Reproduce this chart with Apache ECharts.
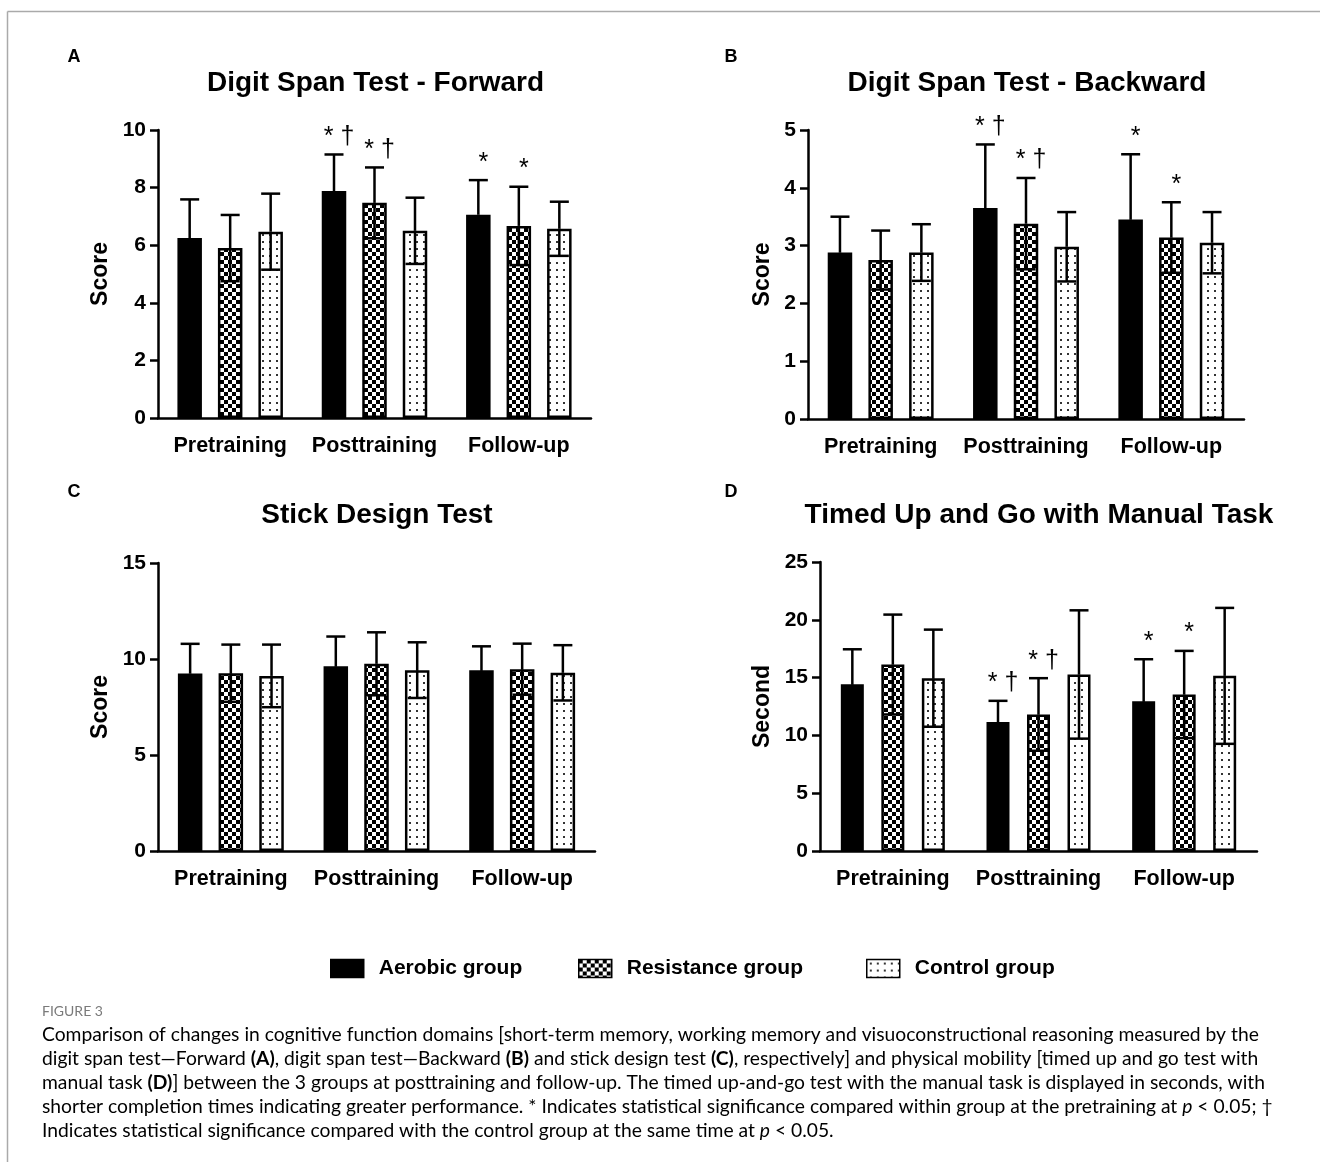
<!DOCTYPE html>
<html><head><meta charset="utf-8">
<script src="https://cdn.jsdelivr.net/npm/echarts@6/dist/echarts.min.js"></script>
<style>html,body{margin:0;padding:0;background:#fff}#c{width:1320px;height:1162px}</style>
</head><body><div id="c"></div>
<script>
// ---------------- DATA ----------------
const categories = ['Pretraining', 'Posttraining', 'Follow-up'];
const groups = ['Aerobic group', 'Resistance group', 'Control group'];
const panelTitles = ['Digit Span Test - Forward', 'Digit Span Test - Backward', 'Stick Design Test', 'Timed Up and Go with Manual Task'];
const panelLetters = ['A', 'B', 'C', 'D'];
const yNames = ['Score', 'Score', 'Score', 'Second'];
const yMax = [10, 5, 15, 25];
const yStep = [2, 1, 5, 5];

// Panel A: Digit span forward (mean, SD)
const fwdAerobic = [6.25, 7.88, 7.06];
const fwdAerobicSD = [1.34, 1.27, 1.20];
const fwdResistance = [5.90, 7.47, 6.67];
const fwdResistanceSD = [1.15, 1.23, 1.36];
const fwdControl = [6.47, 6.50, 6.57];
const fwdControlSD = [1.32, 1.15, 0.94];

// Panel B: Digit span backward
const bwdAerobic = [2.88, 3.65, 3.45];
const bwdAerobicSD = [0.62, 1.10, 1.13];
const bwdResistance = [2.75, 3.38, 3.14];
const bwdResistanceSD = [0.51, 0.79, 0.61];
const bwdControl = [2.88, 2.98, 3.05];
const bwdControlSD = [0.49, 0.60, 0.53];

// Panel C: Stick design test
const stickAerobic = [9.24, 9.62, 9.42];
const stickAerobicSD = [1.55, 1.55, 1.24];
const stickResistance = [9.26, 9.75, 9.47];
const stickResistanceSD = [1.49, 1.64, 1.33];
const stickControl = [9.12, 9.42, 9.28];
const stickControlSD = [1.63, 1.45, 1.44];

// Panel D: Timed up and go with manual task (seconds)
const tugAerobic = [14.43, 11.15, 12.96];
const tugAerobicSD = [3.02, 1.84, 3.63];
const tugResistance = [16.13, 11.81, 13.54];
const tugResistanceSD = [4.32, 3.14, 3.77];
const tugControl = [14.95, 15.27, 15.15];
const tugControlSD = [4.20, 5.55, 5.88];

// Significance marks
const marksA = [['', '* \u2020', '*'], ['', '* \u2020', '*'], ['', '', '']];
const marksB = [['', '* \u2020', '*'], ['', '* \u2020', '*'], ['', '', '']];
const marksC = [['', '', ''], ['', '', ''], ['', '', '']];
const marksD = [['', '* \u2020', '*'], ['', '* \u2020', '*'], ['', '', '']];

const captionHead = 'FIGURE 3';
const captionLines = [
  '{n|Comparison of changes in cognitive function domains [short-term memory, working memory and visuoconstructional reasoning measured by the}',
  '{n|digit span test\u2014Forward }{b|(A)}{n|, digit span test\u2014Backward }{b|(B)}{n| and stick design test }{b|(C)}{n|, respectively] and physical mobility [timed up and go test with}',
  '{n|manual task }{b|(D)}{n|] between the 3 groups at posttraining and follow-up. The timed up-and-go test with the manual task is displayed in seconds, with}',
  '{n|shorter completion times indicating greater performance. * Indicates statistical significance compared within group at the pretraining at }{i|p}{n| < 0.05; \u2020}',
  '{n|Indicates statistical significance compared with the control group at the same time at }{i|p}{n| < 0.05.}'
];
const captionPlain1 = 'Comparison of changes in cognitive function domains [short-term memory, working memory and visuoconstructional reasoning measured by the';

// --------------- ASSEMBLY ---------------
const means = [
  [fwdAerobic, fwdResistance, fwdControl],
  [bwdAerobic, bwdResistance, bwdControl],
  [stickAerobic, stickResistance, stickControl],
  [tugAerobic, tugResistance, tugControl]
];
const sds = [
  [fwdAerobicSD, fwdResistanceSD, fwdControlSD],
  [bwdAerobicSD, bwdResistanceSD, bwdControlSD],
  [stickAerobicSD, stickResistanceSD, stickControlSD],
  [tugAerobicSD, tugResistanceSD, tugControlSD]
];
const marks = [marksA, marksB, marksC, marksD];

const FONT = "'Liberation Sans', Arial, Helvetica, sans-serif";
const CAPFONT = "Lato, 'Open Sans', sans-serif";

const gridBoxes = [
  {left: 158, top: 130, width: 433, height: 288},
  {left: 808, top: 130, width: 436, height: 289},
  {left: 158, top: 563, width: 437, height: 288},
  {left: 820, top: 562, width: 437, height: 289}
];
const barW = [24.5, 24.5, 24.5, 23];
const barStep = [40.5, 40.7, 40.7, 40.5];
const nameGaps = [46, 34, 46, 46];
const titlePos = [[375.5, 83], [1027, 83], [377, 515], [1039, 515]];
const letterPos = [[74, 57], [731, 57], [74, 492], [731, 492]];

function checkerPattern() {
  const c = document.createElement('canvas');
  c.width = 8; c.height = 8;
  const x = c.getContext('2d');
  x.fillStyle = '#fff'; x.fillRect(0, 0, 8, 8);
  x.fillStyle = '#000'; x.fillRect(0, 0, 4, 4); x.fillRect(4, 4, 4, 4);
  return c;
}
function dotPattern() {
  const c = document.createElement('canvas');
  c.width = 7; c.height = 7;
  const x = c.getContext('2d');
  x.fillStyle = '#fff'; x.fillRect(0, 0, 7, 7);
  x.fillStyle = '#333'; x.fillRect(3, 3, 2, 2);
  return c;
}
const fills = [
  '#000',
  {image: checkerPattern(), repeat: 'repeat'},
  {image: dotPattern(), repeat: 'repeat'}
];

const grid = [], xAxis = [], yAxis = [], series = [];
for (let p = 0; p < 4; p++) {
  grid.push(Object.assign({containLabel: false}, gridBoxes[p]));
  xAxis.push({
    type: 'category', gridIndex: p, data: categories,
    axisLine: {lineStyle: {color: '#000', width: 2.5}},
    axisTick: {alignWithLabel: true, length: 9, lineStyle: {color: '#000', width: 2.5}},
    axisLabel: {interval: 0, margin: 17, color: '#000', fontFamily: FONT, fontWeight: 'bold', fontSize: 21.5},
    splitLine: {show: false}
  });
  yAxis.push({
    type: 'value', gridIndex: p, min: 0, max: yMax[p], interval: yStep[p],
    name: yNames[p], nameLocation: 'middle', nameRotate: 90, nameGap: nameGaps[p],
    nameTextStyle: {color: '#000', fontFamily: FONT, fontWeight: 'bold', fontSize: 23},
    axisLine: {show: true, lineStyle: {color: '#000', width: 2.5}},
    axisTick: {show: true, length: 8, lineStyle: {color: '#000', width: 2.5}},
    axisLabel: {margin: 12, color: '#000', fontFamily: FONT, fontWeight: 'bold', fontSize: 21},
    splitLine: {show: false}
  });
  for (let g = 0; g < 3; g++) {
    series.push({
      type: 'bar', name: groups[g], xAxisIndex: p, yAxisIndex: p,
      data: means[p][g], barWidth: barW[p],
      barGap: ((barStep[p] - barW[p]) / barW[p] * 100).toFixed(1) + '%',
      itemStyle: {color: fills[g], borderColor: '#000', borderWidth: 2.5},
      emphasis: {disabled: true}, z: 2
    });
  }
  for (let g = 0; g < 3; g++) {
    const pp = p, gg = g;
    series.push({
      type: 'custom', name: 'err-' + p + '-' + g, xAxisIndex: p, yAxisIndex: p, z: 5,
      data: categories.map((c, i) => [i, means[p][g][i], sds[p][g][i]]),
      renderItem: function (params, api) {
        const cat = api.value(0), m = api.value(1), sd = api.value(2);
        const off = (gg - 1) * barStep[pp];
        const x = api.coord([cat, m])[0] + off;
        const yM = api.coord([cat, m])[1];
        const yT = api.coord([cat, m + sd])[1];
        const yB = api.coord([cat, m - sd])[1];
        const half = 9.5;
        const ls = {stroke: '#000', lineWidth: 2.5};
        const children = [
          {type: 'line', shape: {x1: x, y1: yM, x2: x, y2: yT}, style: ls},
          {type: 'line', shape: {x1: x - half, y1: yT, x2: x + half, y2: yT}, style: ls},
          {type: 'line', shape: {x1: x, y1: yM, x2: x, y2: yB}, style: ls},
          {type: 'line', shape: {x1: x - half, y1: yB, x2: x + half, y2: yB}, style: ls}
        ];
        const mk = marks[pp][gg][params.dataIndex];
        if (mk) {
          children.push({type: 'text', style: {
            text: mk, x: x + 5, y: yT - 5, align: 'center', verticalAlign: 'bottom',
            fontFamily: FONT, fontSize: 25, fill: '#000'
          }});
        }
        return {type: 'group', children: children};
      }
    });
  }
}

// caption sizing
const mctx = document.createElement('canvas').getContext('2d');
mctx.font = '100px ' + CAPFONT;
const capSize = Math.min(20, 1218 / mctx.measureText(captionPlain1).width * 100);

const graphic = [
  {type: 'line', shape: {x1: 7.5, y1: 11.5, x2: 1320, y2: 11.5}, style: {stroke: '#aaa', lineWidth: 1.5}},
  {type: 'line', shape: {x1: 7.5, y1: 11.5, x2: 7.5, y2: 1162}, style: {stroke: '#aaa', lineWidth: 1.5}}
];
for (let p = 0; p < 4; p++) {
  graphic.push({type: 'text', x: letterPos[p][0], y: letterPos[p][1], style: {
    text: panelLetters[p], align: 'center', verticalAlign: 'middle',
    fontFamily: FONT, fontWeight: 'bold', fontSize: 18, fill: '#000'}});
  graphic.push({type: 'text', x: titlePos[p][0], y: titlePos[p][1], style: {
    text: panelTitles[p], align: 'center', verticalAlign: 'middle',
    fontFamily: FONT, fontWeight: 'bold', fontSize: 28, fill: '#000'}});
}
graphic.push({type: 'text', x: 42, y: 1011, style: {
  text: captionHead, align: 'left', verticalAlign: 'middle',
  fontFamily: CAPFONT, fontSize: 14, fill: '#7a7a7a'}});
captionLines.forEach((t, i) => {
  graphic.push({type: 'text', x: 42, y: 1035 + 24 * i, style: {
    text: t, align: 'left', verticalAlign: 'middle',
    rich: {
      n: {fontFamily: CAPFONT, fontSize: capSize, color: '#555'},
      b: {fontFamily: CAPFONT, fontSize: capSize, color: '#555', fontWeight: 'bold'},
      i: {fontFamily: CAPFONT, fontSize: capSize, color: '#555', fontStyle: 'italic'}
    }}});
});

const legendLeft = [330, 578, 866];
const legend = groups.map((n, i) => ({
  data: [{name: n, icon: 'rect'}], left: legendLeft[i], top: 958, orient: 'horizontal',
  itemWidth: 33, itemHeight: 18, padding: 0, selectedMode: false,
  itemStyle: {borderColor: '#000', borderWidth: 1.5},
  textStyle: {fontFamily: FONT, fontWeight: 'bold', fontSize: 21, color: '#000', padding: [0, 0, 0, 10]}
}));

const chart = echarts.init(document.getElementById('c'), null, {renderer: 'canvas'});
chart.setOption({
  animation: false, backgroundColor: '#fff',
  grid, xAxis, yAxis, series, legend, graphic
});
</script></body></html>
